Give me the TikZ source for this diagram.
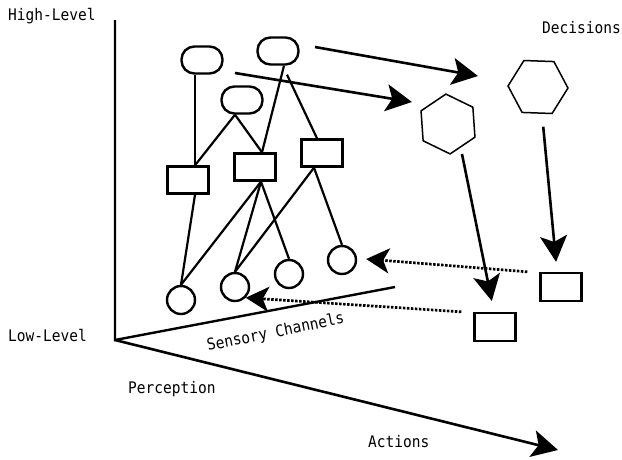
\documentclass[tikz,border=0pt]{standalone}
\usepackage{fontspec}
\newfontfamily\dmono{DejaVu Sans Mono}
\usetikzlibrary{arrows.meta,shapes.geometric,calc}
\newcommand{\tallt}[1]{\scalebox{1}[1.1]{#1}}
\begin{document}
\begin{tikzpicture}[x=1pt,y=-1pt,
  lbl/.style={font=\dmono\fontsize{14.5}{17}\selectfont, inner sep=0pt, anchor=base west},
  oval/.style={draw, line width=2.4pt, rounded corners=13pt, minimum width=41pt, minimum height=27pt, inner sep=0pt},
  box/.style={draw, line width=2.4pt, minimum width=41pt, minimum height=27pt, inner sep=0pt},
  circ/.style={circle, draw, line width=2.4pt, minimum size=28pt, inner sep=0pt},
  hex/.style={regular polygon, regular polygon sides=6, draw, line width=1.5pt, minimum size=60pt, inner sep=0pt},
  tl/.style={line width=2.2pt},
  axis/.style={line width=2.4pt},
  arr/.style={line width=2.6pt, -{Stealth[length=26pt,width=27pt,inset=6pt]}},
  dotarr/.style={line width=2.7pt, dash pattern=on 2.5pt off 1.5pt, -{Stealth[length=23pt,width=25pt,inset=6pt]}}
]
\useasboundingbox (0,0) rectangle (622,459);
\fill[white] (0,0) rectangle (622,459);

% axes
\coordinate (O) at (115,340);
\coordinate (Vtop) at (115,20);
\coordinate (Send) at (395,287);
\coordinate (Aend) at (558,450);
\draw[axis] (Vtop) -- (O) -- (Send);
\draw[arr] (O) -- (Aend);

% nodes
\node[oval] (E1) at (202,60) {};
\node[oval] (E2) at (278,51) {};
\node[oval] (E3) at (242,100) {};
\node[box] (R1) at (188,180) {};
\node[box] (R2) at (255,167) {};
\node[box] (R3) at (322,153) {};
\node[circ] (C1) at (181,300) {};
\node[circ] (C2) at (235,287) {};
\node[circ] (C3) at (289,274) {};
\node[circ] (C4) at (342,260) {};
\node[hex, shape border rotate=-2] (H1) at (538,87) {};
\node[hex, shape border rotate=34] (H2) at (448,124) {};
\node[box, minimum height=28pt] (D1) at (561,287) {};
\node[box, minimum height=28pt] (D2) at (495,327) {};

% tree lines
\draw[tl] ([xshift=-7pt]E1.south) -- ([xshift=7pt]R1.north);
\draw[tl] ([xshift=-7pt]E3.south) -- ([xshift=7pt]R1.north);
\draw[tl] ([xshift=-7pt]E3.south) -- ([xshift=7pt]R2.north);
\draw[tl] ([xshift=6pt]E2.south) -- ([xshift=7pt]R2.north);
\draw[tl] ($(E2.south)+(9,9)$) -- ([xshift=-5pt]R3.north);
\draw[tl] ([xshift=7pt]R1.south) -- (C1.north);
\draw[tl] ([xshift=6pt]R2.south) -- (C1.north);
\draw[tl] ([xshift=6pt]R2.south) -- (C2.north);
\draw[tl] ([xshift=6pt]R2.south) -- (C3.north);
\draw[tl] ([xshift=-8pt]R3.south) -- (C2.north);
\draw[tl] ([xshift=-8pt]R3.south) -- (C4.north);

% arrows to decisions
\coordinate (a1s) at (315,47);
\coordinate (a1e) at (478,76);
\coordinate (a2s) at (235,73);
\coordinate (a2e) at (412,102);
\draw[arr] (a1s) -- (a1e);
\draw[arr] (a2s) -- (a2e);
\draw[arr, shorten >=11pt] ($(H2.center)+(14,30)$) -- ([xshift=-1pt]D2.north);
\draw[arr, shorten <=13pt, shorten >=10pt] ([xshift=4pt]H1.south) -- ([xshift=-4pt]D1.north);

% dotted feedback
\draw[dotarr] ($(D1.north west)+(-12,0)$) -- ($(C4.east)+(9,-1)$);
\draw[dotarr] ($(D2.north west)+(-12,0)$) -- (C2.-45);

% labels
\node[lbl] (hl) at (8,20) {\tallt{High-Level}};
\node[lbl] (dec) at (542,33) {\tallt{Decisions}};
\node[lbl] (ll) at (8,341) {\tallt{Low-Level}};
\node[lbl] (per) at (128,393) {\tallt{Perception}};
\node[lbl] (act) at (368,447) {\tallt{Actions}};
\node[lbl, rotate=11.5] (sc) at (208,351) {\tallt{Sensory Channels}};
\end{tikzpicture}
\end{document}
